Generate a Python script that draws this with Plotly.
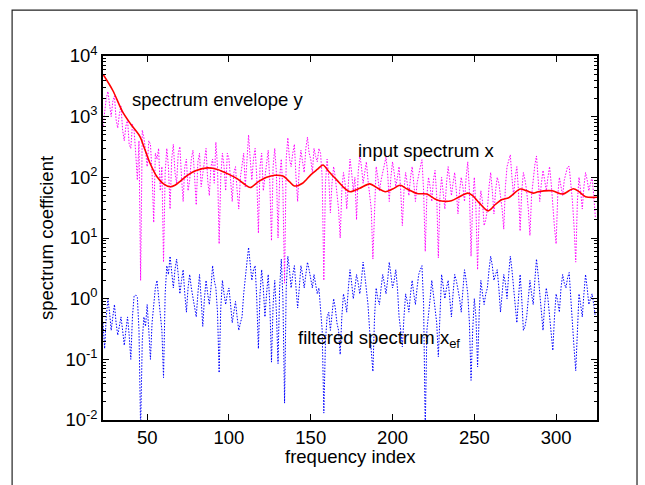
import plotly.graph_objects as go

# ---- data ----
first_index = 23

input_spectrum_x = [
    700,
    1200, 2000, 2600, 1500, 1000, 1800, 2200, 900, 650, 1100,
    1500, 600, 400, 700, 900, 350, 300, 750, 600, 250,
    90, 400, 2, 600, 450, 280, 150, 400, 350, 120,
    18, 250, 200, 300, 60, 150, 4, 120, 300, 150,
    30, 200, 350, 120, 80, 250, 320, 100, 40, 150,
    200, 60, 90, 200, 280, 100, 35, 180, 250, 70,
    120, 220, 300, 90, 50, 150, 200, 80, 380, 150,
    8, 100, 250, 150, 60, 250, 200, 90, 40, 120,
    150, 60, 30, 100, 180, 250, 70, 200, 500, 200,
    90, 200, 300, 100, 12, 150, 250, 60, 100, 200,
    280, 80, 9, 150, 300, 120, 10, 100, 200, 60,
    1.8, 200, 450, 200, 150, 250, 350, 100, 40, 150,
    280, 180, 120, 300, 460, 250, 200, 120, 300, 220,
    180, 300, 250, 100, 2, 80, 200, 100, 26, 80,
    150, 100, 60, 30, 10, 60, 120, 80, 30, 100,
    200, 120, 60, 100, 20, 120, 230, 150, 80, 120,
    180, 90, 50, 30, 4.5, 40, 150, 100, 60, 90,
    120, 180, 215, 120, 40, 100, 180, 120, 70, 100,
    150, 60, 16, 60, 120, 80, 50, 100, 150, 80,
    40, 80, 120, 150, 195, 60, 6, 50, 100, 70,
    40, 90, 130, 50, 4.7, 50, 100, 60, 30, 80,
    150, 90, 50, 80, 120, 60, 25, 60, 100, 70,
    40, 100, 180, 60, 5, 40, 100, 30, 3, 30,
    60, 40, 16, 20, 30, 70, 120, 60, 25, 60,
    100, 80, 50, 30, 14, 70, 150, 200, 235, 100,
    50, 100, 150, 60, 13, 60, 120, 90, 60, 30,
    11, 50, 100, 160, 225, 100, 40, 80, 130, 90,
    60, 100, 150, 80, 30, 15, 8, 50, 100, 70,
    50, 90, 120, 150, 150, 80, 40, 15, 4, 40,
    100, 60, 30, 70, 120, 90, 60, 80, 100, 50,
    22,
]

filtered_spectrum_xef = [
    0.4,
    0.15, 0.5, 1.0, 0.6, 0.3, 0.5, 0.8, 0.4, 0.25, 0.35,
    0.5, 0.3, 0.17, 0.3, 0.5, 0.25, 0.1, 0.5, 1.1, 1.15,
    1.05, 0.3, 0.007, 0.2, 0.5, 0.35, 0.8, 0.3, 0.1, 0.4,
    0.9, 1.5, 2.0, 1.0, 0.5, 0.3, 0.05, 1.2, 3.5, 2.5,
    5, 3, 1.5, 3, 4.5, 2.5, 1.2, 2, 3, 1.2,
    0.6, 1.5, 2.5, 1.5, 1.0, 0.7, 0.5, 1.2, 2.5, 1.0,
    0.35, 1.0, 2, 1.2, 0.8, 1.5, 3.5, 2, 1.5, 0.6,
    0.06, 0.7, 2, 1.2, 0.8, 1.2, 1.5, 0.8, 0.4, 0.6,
    0.9, 0.5, 0.3, 0.4, 0.5, 1.2, 2.5, 4, 7, 4,
    2, 3, 3.5, 1.0, 0.15, 1.2, 3, 1.5, 0.5, 1.2,
    2.5, 0.8, 0.09, 0.8, 2.0, 0.6, 0.085, 1.5, 4.5, 1.0,
    0.019, 1.5, 5, 3, 1.5, 2.5, 3.5, 1.5, 0.7, 1.5,
    3.5, 2.5, 1.5, 2.5, 4, 3, 2, 1.5, 2.5, 1.8,
    1.2, 1.5, 0.6, 0.3, 0.013, 0.2, 0.5, 0.6, 0.3, 0.6,
    1.0, 0.7, 0.4, 0.3, 0.12, 0.5, 1.2, 0.9, 0.6, 1.5,
    3, 1.8, 1.0, 1.5, 2.5, 1.8, 1.2, 2, 4, 2.5,
    1.5, 0.8, 0.3, 0.15, 0.063, 0.5, 1.5, 1.0, 0.8, 1.5,
    2.5, 1.8, 1.2, 2, 4, 2.5, 1.5, 2, 3, 1.5,
    0.5, 0.3, 0.16, 0.5, 1.2, 0.9, 0.6, 1.2, 2, 1.2,
    0.8, 1.5, 2.5, 3, 3.5, 0.8, 0.007, 0.3, 0.5, 1.0,
    2, 1.2, 0.7, 0.4, 0.11, 0.8, 2.5, 1.6, 1.0, 1.5,
    2, 1.0, 0.5, 1.2, 2.5, 2, 1.5, 1.0, 0.6, 1.5,
    3, 2, 1.2, 0.4, 0.045, 0.3, 1.0, 0.5, 0.075, 0.6,
    2, 1.2, 0.8, 1.2, 1.5, 3, 5, 3.5, 2, 2.5,
    3, 1.5, 0.6, 1.2, 2.5, 1.8, 1.0, 2.5, 5, 3,
    1.5, 0.8, 0.4, 1.0, 2.5, 1.0, 0.3, 0.35, 0.5, 1.0,
    2, 1.2, 0.8, 2, 4.5, 2.5, 1.2, 0.6, 0.3, 0.8,
    1.5, 1.0, 0.5, 0.3, 0.14, 0.5, 1.2, 0.9, 0.6, 1.5,
    2.5, 1.8, 1.5, 2.2, 2.7, 1.0, 0.3, 0.15, 0.065, 0.4,
    1.2, 0.8, 0.5, 1.2, 2.5, 1.5, 0.8, 1.0, 1.2, 0.8,
    0.5,
]

freq_index = list(range(first_index, first_index + len(input_spectrum_x)))
freq_index_f = list(range(first_index, first_index + len(filtered_spectrum_xef)))

# smooth spectrum envelope
envelope_index = [
    23, 29, 35, 40, 45.6, 48, 51.7, 56, 60, 64, 67, 70, 75, 80, 87, 93,
    100, 105, 110, 113, 118, 123, 128, 133, 137, 140, 145, 150, 154, 157.5,
    161, 166, 171, 174, 180, 186, 191, 195.5, 200, 204.6, 209, 215, 221,
    226, 229, 236, 241, 246, 249, 253, 258.5, 263, 267, 271, 278, 282, 286,
    289, 297.6, 304, 310.5, 314, 318, 325,
]
envelope_y = [
    5000, 2700, 1200, 750, 470, 320, 172, 102, 78, 70, 74, 85, 110, 130, 143, 135,
    112, 95, 75, 68, 85, 100, 108, 105, 85, 72, 80, 110, 135, 160,
    125, 90, 65, 58, 66, 78, 66, 58, 64, 74, 64, 54, 53,
    44, 41, 41, 48, 55, 50, 38, 28, 36, 43, 46, 64, 60, 55,
    58, 60, 53, 65, 58, 48, 47,
]

x_tick_values = [50, 100, 150, 200, 250, 300]
y_tick_exponents = [-2, -1, 0, 1, 2, 3, 4]

FONT = "Liberation Sans, Arial, sans-serif"
FS = 18.5

fig = go.Figure()
fig.add_trace(go.Scatter(
    x=freq_index, y=input_spectrum_x, mode="lines",
    line=dict(color="#ff00ff", width=1, dash="1.5px,1.5px"), name="input spectrum x"))
fig.add_trace(go.Scatter(
    x=freq_index_f, y=filtered_spectrum_xef, mode="lines",
    line=dict(color="#0000ff", width=1, dash="1.5px,1.5px"), name="filtered spectrum"))
fig.add_trace(go.Scatter(
    x=envelope_index, y=envelope_y, mode="lines",
    line=dict(color="#ff0000", width=1.6, shape="spline", smoothing=0.8),
    name="spectrum envelope y"))

minor_vals = [m * 10.0 ** e for e in range(-2, 4) for m in range(2, 10)]

fig.update_layout(
    width=645, height=485,
    margin=dict(l=103, r=48, t=56, b=65),
    paper_bgcolor="white", plot_bgcolor="white",
    showlegend=False,
    font=dict(family=FONT, size=FS, color="black"),
    xaxis=dict(
        range=[23, 325], showgrid=False, zeroline=False,
        showline=True, linecolor="black", linewidth=1.5, mirror="allticks",
        ticks="inside", ticklen=6, tickwidth=1, tickcolor="black",
        tickvals=x_tick_values,
        tickfont=dict(family=FONT, size=FS),
    ),
    yaxis=dict(
        type="log", range=[-2, 4], showgrid=False, zeroline=False,
        showline=True, linecolor="black", linewidth=1.5, mirror="allticks",
        ticks="inside", ticklen=6, tickwidth=1, tickcolor="black",
        tickvals=[10.0 ** e for e in y_tick_exponents],
        ticktext=["10<sup>%d</sup>" % e for e in y_tick_exponents],
        tickfont=dict(family=FONT, size=FS),
        minor=dict(tickvals=minor_vals, ticks="inside", ticklen=3,
                   tickwidth=1, tickcolor="black", showgrid=False),
        title=dict(text="spectrum coefficient", standoff=7,
                   font=dict(family=FONT, size=FS)),
    ),
    shapes=[dict(type="rect", xref="paper", yref="paper",
                 x0=-0.184, x1=1.081, y0=-0.3, y1=1.126,
                 line=dict(color="#222222", width=1.2), layer="below")],
    annotations=[
        dict(x=0.5, y=-0.1, xref="paper", yref="paper", text="frequency index",
             showarrow=False, xanchor="center", yanchor="middle",
             font=dict(family=FONT, size=FS)),
        dict(x=39.5, y=3.29, xref="x", yref="y", text="spectrum envelope y",
             showarrow=False, xanchor="left", yanchor="middle",
             font=dict(family=FONT, size=FS)),
        dict(x=177.6, y=2.45, xref="x", yref="y", text="input spectrum x",
             showarrow=False, xanchor="left", yanchor="middle",
             font=dict(family=FONT, size=FS)),
        dict(x=140.7, y=-0.665, xref="x", yref="y",
             text="filtered spectrum x<sub>ef</sub>",
             showarrow=False, xanchor="left", yanchor="middle",
             font=dict(family=FONT, size=FS)),
    ],
)

fig.write_html("out.html", config={"displayModeBar": False},
               post_script="document.body.style.margin='0';")
